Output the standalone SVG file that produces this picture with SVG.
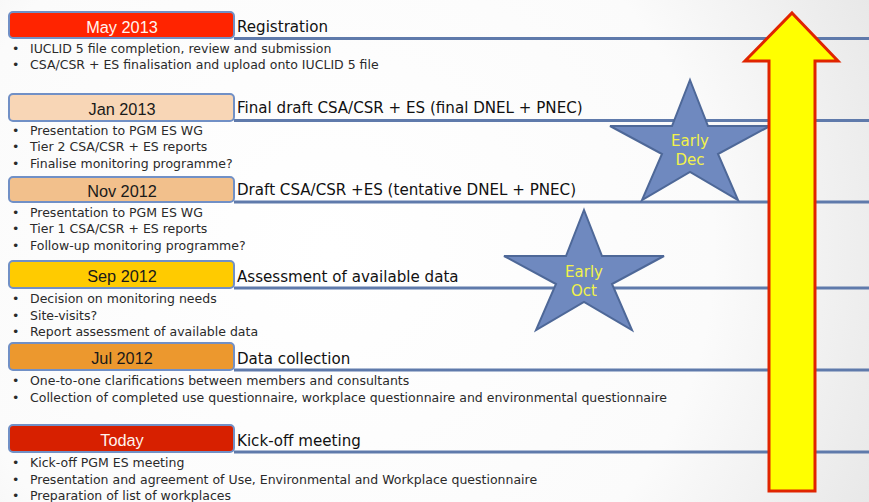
<svg xmlns="http://www.w3.org/2000/svg" width="869" height="502" viewBox="0 0 869 502">
  <defs>
    <radialGradient id="bg" cx="330" cy="250" r="640" gradientUnits="userSpaceOnUse">
      <stop offset="0" stop-color="#ffffff"/>
      <stop offset="0.6" stop-color="#fbfbfb"/>
      <stop offset="1" stop-color="#e4e4e4"/>
    </radialGradient>
    <!-- five-point star, centred on the origin, slightly wider than tall -->
    <polygon id="star" points="0,-66 18,-20 80,-20 28,8 48,54 0,26 -48,54 -28,8 -80,-20 -18,-20"/>
  </defs>
  <style>
    text { font-family: "DejaVu Sans", Verdana, sans-serif; }
    .box { stroke: #7190c6; stroke-width: 2; }
    .lbl { font-family: "Liberation Sans", Arial, sans-serif; font-size: 16.3px; text-anchor: middle; fill: #1a1a1a; }
    .lbl.light { fill: #fff4ef; }
    .title { font-size: 15.1px; fill: #111; }
    .item { font-size: 12.5px; fill: #2a2a2a; }
    .rule { stroke: #5f7aab; stroke-width: 3; }
    .star { fill: #6f89bf; stroke: #4e6898; stroke-width: 2; stroke-linejoin: miter; }
    .startxt { font-size: 15px; fill: #f2f24a; text-anchor: middle; }
  </style>

  <rect x="0" y="0" width="869" height="502" fill="url(#bg)"/>

  <!-- timeline rules -->
  <g id="connectors">
    <line class="rule" x1="234" y1="38.5" x2="869" y2="38.5"/>
    <line class="rule" x1="234" y1="120.5" x2="869" y2="120.5"/>
    <line class="rule" x1="234" y1="202" x2="869" y2="202"/>
    <line class="rule" x1="234" y1="288" x2="869" y2="288"/>
    <line class="rule" x1="234" y1="370" x2="869" y2="370"/>
    <line class="rule" x1="234" y1="452" x2="869" y2="452"/>
  </g>

  <g id="may2013">
    <rect class="box" x="9" y="12" width="225" height="26" rx="4" fill="#ff2400"/>
    <text class="lbl light" x="122" y="32.5">May 2013</text>
    <text class="title" x="237" y="32">Registration</text>
    <text class="item" x="12" y="53">•</text>
    <text class="item" x="30" y="53">IUCLID 5 file completion, review and submission</text>
    <text class="item" x="12" y="69">•</text>
    <text class="item" x="30" y="69">CSA/CSR + ES finalisation and upload onto IUCLID 5 file</text>
  </g>

  <g id="jan2013">
    <rect class="box" x="9" y="94" width="225" height="27" rx="4" fill="#f8d6b6"/>
    <text class="lbl" x="122" y="114.5">Jan 2013</text>
    <text class="title" x="237" y="113">Final draft CSA/CSR + ES (final DNEL + PNEC)</text>
    <text class="item" x="12" y="135">•</text>
    <text class="item" x="30" y="135">Presentation to PGM ES WG</text>
    <text class="item" x="12" y="151">•</text>
    <text class="item" x="30" y="151">Tier 2 CSA/CSR + ES reports</text>
    <text class="item" x="12" y="168">•</text>
    <text class="item" x="30" y="168">Finalise monitoring programme?</text>
  </g>

  <g id="nov2012">
    <rect class="box" x="9" y="177" width="225" height="25" rx="4" fill="#f2c08c"/>
    <text class="lbl" x="122" y="196.5">Nov 2012</text>
    <text class="title" x="237" y="195">Draft CSA/CSR +ES (tentative DNEL + PNEC)</text>
    <text class="item" x="12" y="217">•</text>
    <text class="item" x="30" y="217">Presentation to PGM ES WG</text>
    <text class="item" x="12" y="233">•</text>
    <text class="item" x="30" y="233">Tier 1 CSA/CSR + ES reports</text>
    <text class="item" x="12" y="250">•</text>
    <text class="item" x="30" y="250">Follow-up monitoring programme?</text>
  </g>

  <g id="sep2012">
    <rect class="box" x="9" y="261" width="225" height="27" rx="4" fill="#ffcb00"/>
    <text class="lbl" x="122" y="281.5">Sep 2012</text>
    <text class="title" x="237" y="282">Assessment of available data</text>
    <text class="item" x="12" y="303">•</text>
    <text class="item" x="30" y="303">Decision on monitoring needs</text>
    <text class="item" x="12" y="320">•</text>
    <text class="item" x="30" y="320">Site-visits?</text>
    <text class="item" x="12" y="336">•</text>
    <text class="item" x="30" y="336">Report assessment of available data</text>
  </g>

  <g id="jul2012">
    <rect class="box" x="9" y="343" width="225" height="27" rx="4" fill="#ec982e"/>
    <text class="lbl" x="122" y="363.5">Jul 2012</text>
    <text class="title" x="237" y="364">Data collection</text>
    <text class="item" x="12" y="385">•</text>
    <text class="item" x="30" y="385">One-to-one clarifications between members and consultants</text>
    <text class="item" x="12" y="402">•</text>
    <text class="item" x="30" y="402">Collection of completed use questionnaire, workplace questionnaire and environmental questionnaire</text>
  </g>

  <g id="today">
    <rect class="box" x="9" y="425" width="225" height="27" rx="4" fill="#d72000"/>
    <text class="lbl light" x="122" y="445.5">Today</text>
    <text class="title" x="237" y="446">Kick-off meeting</text>
    <text class="item" x="12" y="467">•</text>
    <text class="item" x="30" y="467">Kick-off PGM ES meeting</text>
    <text class="item" x="12" y="484">•</text>
    <text class="item" x="30" y="484">Presentation and agreement of Use, Environmental and Workplace questionnaire</text>
    <text class="item" x="12" y="500">•</text>
    <text class="item" x="30" y="500">Preparation of list of workplaces</text>
  </g>

  <g id="early-dec">
    <use href="#star" class="star" x="690" y="146"/>
    <text class="startxt" x="690" y="146">Early</text>
    <text class="startxt" x="690" y="165">Dec</text>
  </g>

  <g id="early-oct">
    <use href="#star" class="star" x="584" y="276"/>
    <text class="startxt" x="584" y="277">Early</text>
    <text class="startxt" x="584" y="296">Oct</text>
  </g>

  <g id="progress-arrow">
    <path d="M792,13 L838,61 L815,61 L815,491 L769,491 L769,61 L745,61 Z" fill="#ffff00" stroke="#e02400" stroke-width="3" stroke-linejoin="miter"/>
  </g>
</svg>
